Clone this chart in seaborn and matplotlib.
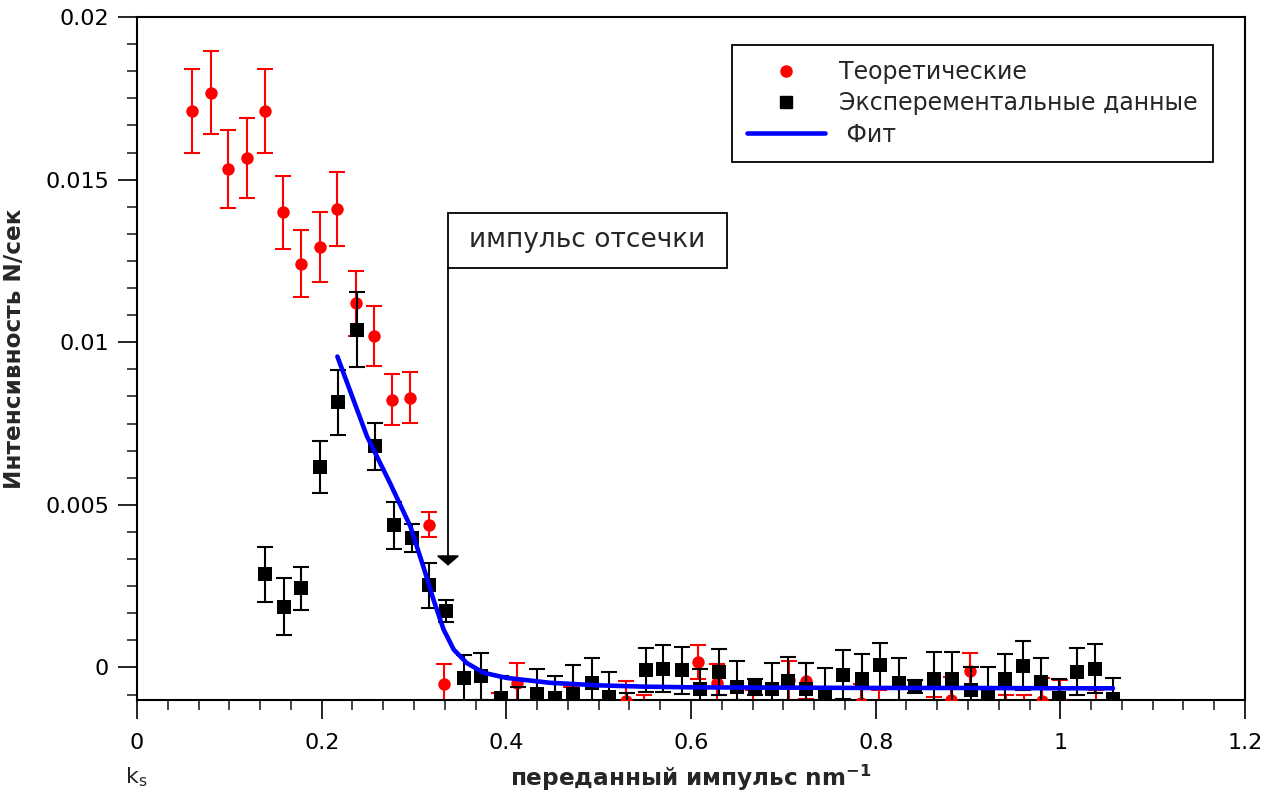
import matplotlib
matplotlib.use('Agg')
import matplotlib.pyplot as plt
from matplotlib.ticker import MultipleLocator, FuncFormatter
from matplotlib.lines import Line2D
from matplotlib.patches import Rectangle
import seaborn as sns

# Теоретические (красные точки)
theor_x = [0.060, 0.080, 0.099, 0.119, 0.139, 0.158, 0.178, 0.198, 0.217, 0.237,
           0.257, 0.276, 0.296, 0.316, 0.333, 0.353, 0.372, 0.392, 0.411, 0.431,
           0.451, 0.470, 0.490, 0.510, 0.530, 0.549, 0.569, 0.588, 0.608, 0.628,
           0.647, 0.667, 0.686, 0.706, 0.725, 0.745, 0.765, 0.784, 0.804, 0.823,
           0.843, 0.863, 0.882, 0.902, 0.921, 0.941, 0.961, 0.980, 1.000, 1.019,
           1.039, 1.058]
theor_y = [0.01711, 0.01767, 0.01532, 0.01566, 0.01711, 0.01399, 0.01242, 0.01292, 0.01410, 0.01120,
           0.01018, 0.00823, 0.00830, 0.00439, -0.00050, -0.00160, -0.00150, -0.00140, -0.00047, -0.00160,
           -0.00150, -0.00120, -0.00160, -0.00160, -0.00102, -0.00150, -0.00160, -0.00160, 0.00017, -0.00049,
           -0.00150, -0.00130, -0.00160, -0.00040, -0.00042, -0.00160, -0.00160, -0.00110, -0.00130, -0.00160,
           -0.00160, -0.00150, -0.00100, -0.00011, -0.00160, -0.00140, -0.00140, -0.00103, -0.00100, -0.00160,
           -0.00130, -0.00150]
theor_err = [0.00128, 0.00128, 0.00120, 0.00123, 0.00128, 0.00112, 0.00103, 0.00107, 0.00114, 0.00100,
             0.00092, 0.00078, 0.00078, 0.00038, 0.00060, 0.00050, 0.00050, 0.00060, 0.00062, 0.00050,
             0.00050, 0.00060, 0.00050, 0.00050, 0.00060, 0.00065, 0.00050, 0.00050, 0.00053, 0.00060,
             0.00050, 0.00060, 0.00050, 0.00060, 0.00056, 0.00050, 0.00050, 0.00060, 0.00060, 0.00050,
             0.00050, 0.00060, 0.00070, 0.00054, 0.00050, 0.00055, 0.00055, 0.00070, 0.00060, 0.00050,
             0.00060, 0.00050]

# Эксперементальные данные (чёрные квадраты)
exp_x = [0.139, 0.159, 0.178, 0.198, 0.218, 0.238, 0.258, 0.278, 0.2975, 0.3166,
         0.3347, 0.354, 0.373, 0.394, 0.413, 0.433, 0.4527, 0.4726, 0.4924, 0.5116,
         0.531, 0.551, 0.570, 0.590, 0.610, 0.630, 0.6495, 0.669, 0.688, 0.705,
         0.725, 0.745, 0.765, 0.785, 0.805, 0.825, 0.843, 0.863, 0.883, 0.903,
         0.922, 0.940, 0.959, 0.979, 0.999, 1.018, 1.038, 1.057]
exp_y = [0.00286, 0.00187, 0.00243, 0.00617, 0.00815, 0.01038, 0.00680, 0.00437, 0.00398, 0.00253,
         0.00175, -0.00032, -0.00027, -0.00095, -0.00130, -0.00083, -0.00095, -0.00081, -0.00049, -0.00090,
         -0.00140, -0.00008, -0.00004, -0.00009, -0.00066, -0.00014, -0.00060, -0.00060, -0.00066, -0.00042,
         -0.00066, -0.00088, -0.00022, -0.00035, 0.00007, -0.00047, -0.00060, -0.00034, -0.00034, -0.00068,
         -0.00083, -0.00035, 0.00006, -0.00044, -0.00095, -0.00013, -0.00004, -0.00096]
exp_err = [0.00084, 0.00087, 0.00065, 0.00080, 0.00100, 0.00115, 0.00072, 0.00072, 0.00044, 0.00069,
           0.00034, 0.00070, 0.00073, 0.00070, 0.00070, 0.00079, 0.00068, 0.00088, 0.00079, 0.00076,
           0.00060, 0.00067, 0.00072, 0.00073, 0.00060, 0.00072, 0.00080, 0.00025, 0.00080, 0.00074,
           0.00080, 0.00085, 0.00075, 0.00077, 0.00069, 0.00075, 0.00020, 0.00083, 0.00083, 0.00070,
           0.00085, 0.00077, 0.00075, 0.00074, 0.00060, 0.00072, 0.00075, 0.00063]

# Фит
fit_x = [0.217, 0.249, 0.274, 0.296, 0.310, 0.321, 0.332, 0.343, 0.357, 0.375,
         0.400, 0.447, 0.500, 0.550, 0.600, 0.700, 0.800, 0.900, 1.000, 1.057]
fit_y = [0.00956, 0.00711, 0.00567, 0.00434, 0.00311, 0.00209, 0.00117, 0.00055, 0.00014, -0.00016,
         -0.00032, -0.00047, -0.00055, -0.00059, -0.00061, -0.00062, -0.00063, -0.00063, -0.00064, -0.00064]

sns.set_style('ticks')
plt.rcParams['font.family'] = ['DejaVu Sans']
plt.rcParams['mathtext.fontset'] = 'dejavusans'

fig = plt.figure(figsize=(12.64, 7.95), dpi=100)
ax = fig.add_axes([0.1084, 0.1195, 0.8766, 0.8591])

ax.errorbar(theor_x, theor_y, yerr=theor_err, fmt='none', ecolor='red',
            elinewidth=1.5, capsize=6, capthick=1.5, zorder=2)
sns.scatterplot(x=theor_x, y=theor_y, color='red', marker='o', s=80,
                linewidth=0, ax=ax, zorder=3)
ax.errorbar(exp_x, exp_y, yerr=exp_err, fmt='none', ecolor='black',
            elinewidth=1.5, capsize=6, capthick=1.5, zorder=4)
sns.scatterplot(x=exp_x, y=exp_y, color='black', marker='s', s=100,
                linewidth=0, ax=ax, zorder=4)
sns.lineplot(x=fit_x, y=fit_y, color='blue', lw=3.3, ax=ax, zorder=5)

ax.set_xlim(0, 1.2)
ax.set_ylim(-0.001, 0.02)
ax.xaxis.set_major_locator(MultipleLocator(0.2))
ax.xaxis.set_minor_locator(MultipleLocator(0.2 / 6))
ax.yaxis.set_major_locator(MultipleLocator(0.005))
ax.yaxis.set_minor_locator(MultipleLocator(0.005 / 6))
fmt = FuncFormatter(lambda v, p: '%g' % round(v, 6))
ax.xaxis.set_major_formatter(fmt)
ax.yaxis.set_major_formatter(fmt)
ax.tick_params(which='major', length=14, width=1.2, direction='out', labelsize=16,
               top=False, right=False, colors='black')
ax.tick_params(which='minor', length=7, width=1.2, direction='out', top=False, right=False)
ax.tick_params(axis='x', which='major', pad=10)
ax.tick_params(axis='y', which='major', pad=6)
for sp in ax.spines.values():
    sp.set_visible(True)
    sp.set_linewidth(1.5)
    sp.set_color('black')

ax.set_xlabel('переданный импульс nm$^{\\mathbf{-1}}$', fontsize=16.7, fontweight='bold', labelpad=7)
ax.set_ylabel('Интенсивность N/сек', fontsize=16.7, fontweight='bold')
ax.yaxis.set_label_coords(-0.1, 0.515)
fig.text(0.099, 0.022, 'k$_\\mathrm{s}$', fontsize=16, va='center', ha='left')

handles = [Line2D([], [], ls='none', marker='o', color='red', ms=8),
           Line2D([], [], ls='none', marker='s', color='black', ms=9),
           Line2D([], [], color='blue', lw=3.3)]
labels = ['Теоретические', 'Эксперементальные данные', ' Фит']
leg = ax.legend(handles, labels, loc='upper right', bbox_to_anchor=(0.971, 0.959),
                frameon=True, fancybox=False, edgecolor='black', framealpha=1,
                fontsize=17, handlelength=3.3, handletextpad=0.6, borderpad=0.65,
                labelspacing=0.3, borderaxespad=0)
leg.get_frame().set_linewidth(1.3)

# импульс отсечки
box_x0, box_x1 = 0.3368, 0.639
box_y0, box_y1 = 0.01229, 0.01398
ax.add_patch(Rectangle((box_x0, box_y0), box_x1 - box_x0, box_y1 - box_y0,
                       fc='white', ec='black', lw=1.3, zorder=6))
ax.text((box_x0 + box_x1) / 2, (box_y0 + box_y1) / 2, 'импульс отсечки', fontsize=19,
        ha='center', va='center', zorder=7)
ax.annotate('', xy=(box_x0, 0.00313), xytext=(box_x0, box_y0),
            arrowprops=dict(arrowstyle='-|>,head_length=0.3,head_width=0.35',
                            mutation_scale=20, color='black', lw=1.3, shrinkA=0, shrinkB=0))

fig.savefig('out.png', dpi=100)
